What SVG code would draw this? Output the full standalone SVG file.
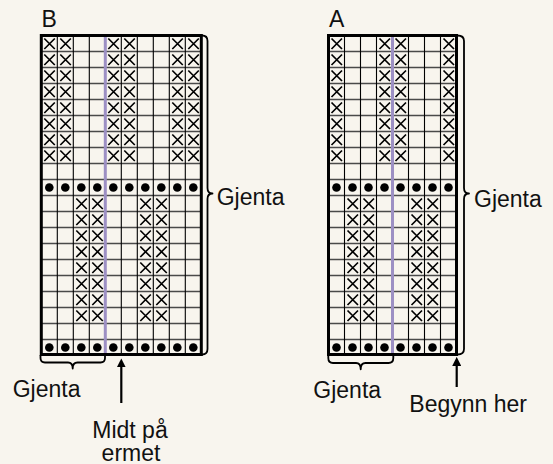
<svg xmlns="http://www.w3.org/2000/svg" xmlns:xlink="http://www.w3.org/1999/xlink" width="553" height="464" viewBox="0 0 553 464">
<style>
.bg{fill:#f8f5ee}
.hl{stroke:#4a4a4a;stroke-width:1.6;fill:none}
.vl{stroke:#000;stroke-width:1.1;fill:none}
.mid{stroke:#9d90c4;stroke-width:3;fill:none}
.xm{stroke:#000;stroke-width:1.7;fill:none}
.dot{fill:#000}
.frame{stroke:#000;stroke-width:3;fill:none}
.brace{stroke:#000;stroke-width:1.8;fill:none;stroke-linejoin:round}
.arrow{stroke:#000;stroke-width:2.2;fill:none}
text{font-family:"Liberation Sans",Arial,Helvetica,sans-serif;font-size:23px;fill:#111}
</style>
<defs>
<path id="x" class="xm" d="M3 3L13.5 13.5M13.5 3L3 13.5"/>
<circle id="d" class="dot" cx="8" cy="8" r="4.3"/>
<g id="bTop"><use href="#x" x="0"/><use href="#x" x="16"/><use href="#x" x="64"/><use href="#x" x="80"/><use href="#x" x="128"/><use href="#x" x="144"/></g>
<g id="bBot"><use href="#x" x="32"/><use href="#x" x="48"/><use href="#x" x="96"/><use href="#x" x="112"/></g>
<g id="bDots"><use href="#d" x="0"/><use href="#d" x="16"/><use href="#d" x="32"/><use href="#d" x="48"/><use href="#d" x="64"/><use href="#d" x="80"/><use href="#d" x="96"/><use href="#d" x="112"/><use href="#d" x="128"/><use href="#d" x="144"/></g>
<g id="aTop"><use href="#x" x="0"/><use href="#x" x="48"/><use href="#x" x="64"/><use href="#x" x="112"/></g>
<g id="aBot"><use href="#x" x="16"/><use href="#x" x="32"/><use href="#x" x="80"/><use href="#x" x="96"/></g>
<g id="aDots"><use href="#d" x="0"/><use href="#d" x="16"/><use href="#d" x="32"/><use href="#d" x="48"/><use href="#d" x="64"/><use href="#d" x="80"/><use href="#d" x="96"/><use href="#d" x="112"/></g>
<path id="hgrid10" class="hl" d="M0 16H160M0 32H160M0 48H160M0 64H160M0 80H160M0 96H160M0 112H160M0 128H160M0 144H160M0 160H160M0 176H160M0 192H160M0 208H160M0 224H160M0 240H160M0 256H160M0 272H160M0 288H160M0 304H160"/>
<path id="hgrid8" class="hl" d="M0 16H128M0 32H128M0 48H128M0 64H128M0 80H128M0 96H128M0 112H128M0 128H128M0 144H128M0 160H128M0 176H128M0 192H128M0 208H128M0 224H128M0 240H128M0 256H128M0 272H128M0 288H128M0 304H128"/>
<marker id="ah" viewBox="0 0 10 10" refX="1" refY="5" markerWidth="9" markerHeight="9" markerUnits="userSpaceOnUse" orient="auto">
<path d="M0 0L10 5L0 10z" fill="#000"/>
</marker>
</defs>
<rect class="bg" x="0" y="0" width="553" height="464"/>

<g id="chartB" transform="translate(41.3,35.5)">
<use href="#hgrid10"/>
<path class="vl" d="M16 0V320M32 0V320M48 0V320M64 0V320M80 0V320M96 0V320M112 0V320M128 0V320M144 0V320"/>
<path class="mid" d="M64 0V320"/>
<use href="#bTop" y="0"/><use href="#bTop" y="16"/><use href="#bTop" y="32"/><use href="#bTop" y="48"/>
<use href="#bTop" y="64"/><use href="#bTop" y="80"/><use href="#bTop" y="96"/><use href="#bTop" y="112"/>
<use href="#bDots" y="144"/>
<use href="#bBot" y="160"/><use href="#bBot" y="176"/><use href="#bBot" y="192"/><use href="#bBot" y="208"/>
<use href="#bBot" y="224"/><use href="#bBot" y="240"/><use href="#bBot" y="256"/><use href="#bBot" y="272"/>
<use href="#bDots" y="304"/>
<rect class="frame" x="0" y="0" width="160" height="319"/>
</g>

<g id="chartA" transform="translate(328.5,35.5)">
<use href="#hgrid8"/>
<path class="vl" d="M16 0V320M32 0V320M48 0V320M64 0V320M80 0V320M96 0V320M112 0V320"/>
<path class="mid" d="M64 0V320"/>
<use href="#aTop" y="0"/><use href="#aTop" y="16"/><use href="#aTop" y="32"/><use href="#aTop" y="48"/>
<use href="#aTop" y="64"/><use href="#aTop" y="80"/><use href="#aTop" y="96"/><use href="#aTop" y="112"/>
<use href="#aDots" y="144"/>
<use href="#aBot" y="160"/><use href="#aBot" y="176"/><use href="#aBot" y="192"/><use href="#aBot" y="208"/>
<use href="#aBot" y="224"/><use href="#aBot" y="240"/><use href="#aBot" y="256"/><use href="#aBot" y="272"/>
<use href="#aDots" y="304"/>
<rect class="frame" x="0" y="0" width="128" height="319"/>
</g>

<g id="connectors">
<path id="braceBRight" class="brace" d="M202 35.5Q207.5 35.5 207.5 41V188Q207.5 193.5 212.5 193.5Q207.5 193.5 207.5 199V349Q207.5 354.5 202 354.5"/>
<path id="braceARight" class="brace" d="M457.5 35.5Q464 35.5 464 41V188Q464 193.5 469 193.5Q464 193.5 464 199V349Q464 354.5 457.5 354.5"/>
<path id="braceBBottom" class="brace" d="M40.5 355V358Q40.5 362.5 45 362.5H68Q72.7 362.5 72.7 368.5Q72.7 362.5 77.5 362.5H100.5Q105 362.5 105 358V355"/>
<path id="braceABottom" class="brace" d="M328.3 355V358Q328.3 363 333 363H356Q360.7 363 360.7 369.3Q360.7 363 365.5 363H388.5Q393.3 363 393.3 358V355"/>
<path id="arrowB" class="arrow" d="M121.3 403V366.5" marker-end="url(#ah)"/>
<path id="arrowA" class="arrow" d="M456.7 387V365" marker-end="url(#ah)"/>
</g>

<g id="labels">
<text id="lblB" x="41.5" y="26.5">B</text>
<text id="lblA" x="329" y="26.5">A</text>
<text id="gjentaBRight" x="216.7" y="204.5">Gjenta</text>
<text id="gjentaARight" x="474" y="207">Gjenta</text>
<text id="gjentaBBottom" x="12.7" y="396.7">Gjenta</text>
<text id="gjentaABottom" x="313.3" y="398.3">Gjenta</text>
<text id="midt" text-anchor="middle"><tspan x="130" y="438.3">Midt på</tspan><tspan x="131" y="460.5">ermet</tspan></text>
<text id="begynn" x="409.3" y="411.7">Begynn her</text>
</g>
</svg>
